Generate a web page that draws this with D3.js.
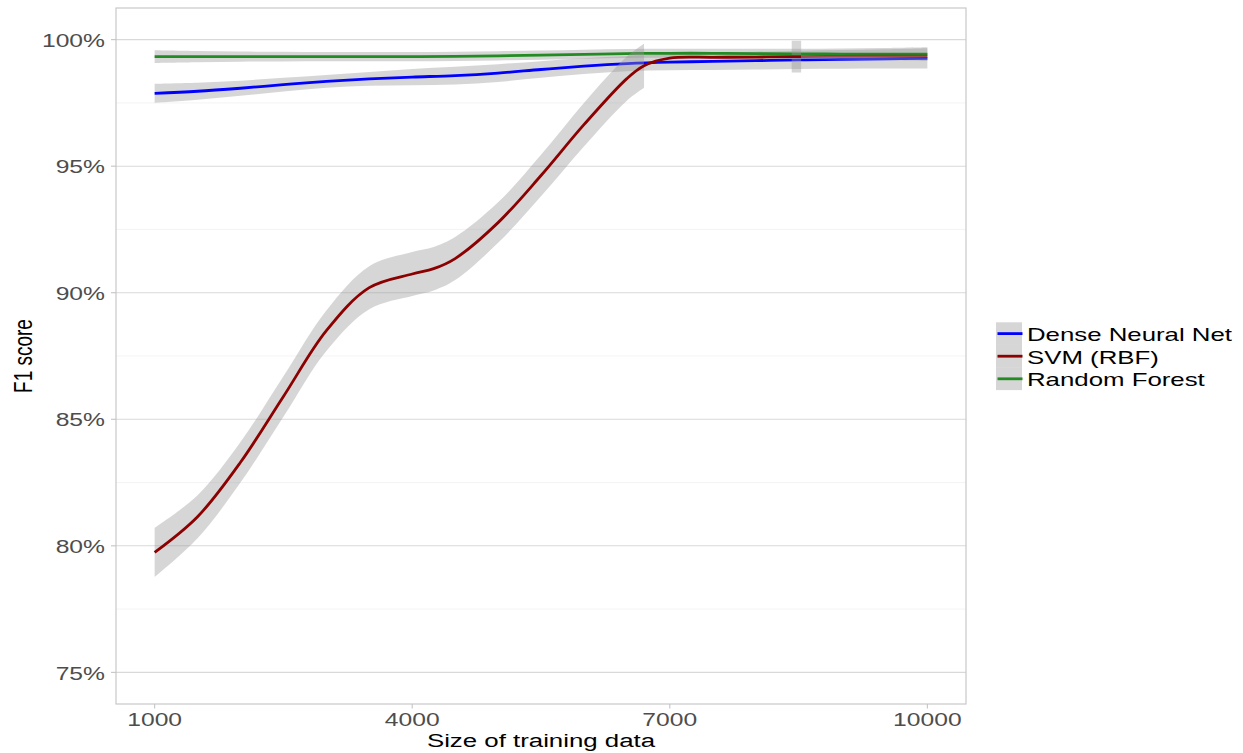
<!DOCTYPE html>
<html>
<head>
<meta charset="utf-8">
<script src="https://cdn.jsdelivr.net/npm/d3@7"></script>
<style>
  html, body { margin: 0; padding: 0; background: #fff; }
  svg { display: block; font-family: "Liberation Sans", Arial, Helvetica, sans-serif; }
</style>
</head>
<body>
<svg id="chart" width="1243" height="753"></svg>
<script>
// ---------------- data ----------------
const seriesNames = ["Dense Neural Net", "SVM (RBF)", "Random Forest"];
const seriesColors = ["#0000ff", "#8b0000", "#228b22"];

const xTicks = [1000, 4000, 7000, 10000];
const yTicks = [75, 80, 85, 90, 95, 100];
const yMinorTicks = [77.5, 82.5, 87.5, 92.5, 97.5];

const dnnX  = [1000,1500,2000,2500,3000,3500,4000,4500,5000,5500,6000,6500,7000,7500,8000,8500,9000,9500,10000];
const dnnF1 = [97.88,97.96,98.08,98.22,98.35,98.45,98.52,98.58,98.68,98.82,98.95,99.05,99.11,99.14,99.17,99.20,99.22,99.24,99.26];
const dnnSe = [0.38,0.34,0.30,0.27,0.25,0.27,0.32,0.35,0.35,0.33,0.31,0.30,0.32,0.34,0.35,0.36,0.37,0.38,0.40];

const rfX  = [1000,1500,2000,2500,3000,3500,4000,4500,5000,5500,6000,6500,7000,7500,8000,8500,9000,9500,10000];
const rfF1 = [99.33,99.33,99.33,99.33,99.33,99.33,99.33,99.34,99.36,99.39,99.42,99.45,99.46,99.46,99.45,99.44,99.43,99.43,99.43];
const rfSe = [0.25,0.22,0.20,0.19,0.18,0.18,0.18,0.18,0.18,0.18,0.18,0.18,0.18,0.18,0.19,0.20,0.22,0.24,0.27];

const svmX  = [1000,1500,2000,2500,3000,3500,4000,4250,4500,5000,5500,6000,6500,6700,7000,7500,8000,8420,8530,9000,9500,10000];
const svmF1 = [79.74,81.15,83.3,85.9,88.5,90.2,90.74,90.95,91.35,92.77,94.63,96.64,98.46,98.97,99.27,99.30,99.31,99.33,99.33,99.34,99.35,99.35];
const svmSe = [0.97,0.85,0.80,0.80,0.80,0.85,0.87,0.86,0.85,0.80,0.82,0.86,0.87,0.87,0.90,0.80,0.72,0.63,0.63,0.70,0.80,0.90];

// y axis limits of the original plot (ribbon parts beyond are dropped)
const yLimit = [75, 100];

// ---------------- layout ----------------
const svg = d3.select("#chart");
const panel = { left: 116, right: 966, top: 8, bottom: 704 };
const SX = 1.37; // horizontal stretch of text in the reference

const x = d3.scaleLinear().domain([550, 10450]).range([panel.left, panel.right]);
const y = d3.scaleLinear().domain([73.75, 101.25]).range([panel.bottom, panel.top]);

// gridlines
svg.append("g").selectAll("line").data(yMinorTicks).join("line")
  .attr("x1", panel.left).attr("x2", panel.right)
  .attr("y1", d => y(d)).attr("y2", d => y(d))
  .attr("stroke", "#ececec").attr("stroke-width", 0.6);
svg.append("g").selectAll("line").data(yTicks).join("line")
  .attr("x1", panel.left).attr("x2", panel.right)
  .attr("y1", d => y(d)).attr("y2", d => y(d))
  .attr("stroke", "#d9d9d9").attr("stroke-width", 1.1);

// series
function makeSeries(xs, vs, ses) {
  return xs.map((d, i) => ({ x: d, v: vs[i], lo: vs[i] - ses[i], hi: vs[i] + ses[i] }));
}
const dnn = makeSeries(dnnX, dnnF1, dnnSe);
const rf  = makeSeries(rfX, rfF1, rfSe);
const svm = makeSeries(svmX, svmF1, svmSe);

const curve = d3.curveCatmullRom.alpha(0.5);
const area = d3.area()
  .defined(d => d.hi <= yLimit[1] && d.lo >= yLimit[0])
  .x(d => x(d.x)).y0(d => y(d.lo)).y1(d => y(d.hi))
  .curve(curve);
const line = d3.line().x(d => x(d.x)).y(d => y(d.v)).curve(curve);

const defs = svg.append("defs");
defs.append("clipPath").attr("id", "clipA").append("rect")
  .attr("x", 0).attr("y", 0).attr("width", x(8530)).attr("height", 753);
defs.append("clipPath").attr("id", "clipB").append("rect")
  .attr("x", x(8530)).attr("y", 0).attr("width", 1243 - x(8530)).attr("height", 753);

const LW = 2.8;
const groups = [
  { data: dnn, color: seriesColors[0] },
  { data: rf,  color: seriesColors[2] },
  { data: svm, color: seriesColors[1], fadeTail: true }
];
groups.forEach(g => {
  svg.append("path").attr("d", area(g.data))
    .attr("fill", "#999999").attr("fill-opacity", 0.4);
  if (g.fadeTail) {
    svg.append("path").attr("d", line(g.data)).attr("fill", "none")
      .attr("stroke", g.color).attr("stroke-width", LW).attr("clip-path", "url(#clipA)");
    svg.append("path").attr("d", line(g.data)).attr("fill", "none")
      .attr("stroke", g.color).attr("stroke-opacity", 0.6).attr("stroke-width", LW).attr("clip-path", "url(#clipB)");
  } else {
    svg.append("path").attr("d", line(g.data)).attr("fill", "none")
      .attr("stroke", g.color).attr("stroke-width", LW);
  }
});

// panel border
svg.append("rect")
  .attr("x", panel.left).attr("y", panel.top)
  .attr("width", panel.right - panel.left).attr("height", panel.bottom - panel.top)
  .attr("fill", "none").attr("stroke", "#c4c4c4").attr("stroke-width", 1.1);

// y axis ticks & labels
const yAx = svg.append("g");
yAx.selectAll("line").data(yTicks).join("line")
  .attr("x1", panel.left - 5).attr("x2", panel.left)
  .attr("y1", d => y(d)).attr("y2", d => y(d))
  .attr("stroke", "#c4c4c4").attr("stroke-width", 1.1);
yAx.selectAll("text").data(yTicks).join("text")
  .attr("transform", d => `translate(105,${y(d) + 7.2}) scale(${SX},1)`)
  .attr("text-anchor", "end").attr("font-size", 18).attr("fill", "#4d4d4d")
  .text(d => d + "%");

// x axis ticks & labels
const xAx = svg.append("g");
xAx.selectAll("line").data(xTicks).join("line")
  .attr("x1", d => x(d)).attr("x2", d => x(d))
  .attr("y1", panel.bottom).attr("y2", panel.bottom + 4.5)
  .attr("stroke", "#c4c4c4").attr("stroke-width", 1.1);
xAx.selectAll("text").data(xTicks).join("text")
  .attr("transform", d => `translate(${x(d)},726) scale(${SX},1)`)
  .attr("text-anchor", "middle").attr("font-size", 18).attr("fill", "#4d4d4d")
  .text(d => d);

// axis titles
svg.append("text")
  .attr("transform", `translate(${(panel.left + panel.right) / 2},747) scale(1.36,1)`)
  .attr("text-anchor", "middle").attr("font-size", 19).attr("fill", "#000")
  .text("Size of training data");
svg.append("text")
  .attr("transform", `translate(32,356) scale(1.36,1) rotate(-90)`)
  .attr("text-anchor", "middle").attr("font-size", 19).attr("fill", "#000")
  .text("F1 score");

// legend
const legend = svg.append("g");
const keyH = 22.6, keyTop = 322.3;
seriesNames.forEach((name, i) => {
  const cy = keyTop + keyH * i + keyH / 2;
  legend.append("rect")
    .attr("x", 996).attr("y", keyTop + keyH * i).attr("width", 26).attr("height", keyH)
    .attr("fill", "#999999").attr("fill-opacity", 0.4);
  legend.append("line")
    .attr("x1", 997.5).attr("x2", 1022.5).attr("y1", cy).attr("y2", cy)
    .attr("stroke", seriesColors[i]).attr("stroke-width", LW);
  legend.append("text")
    .attr("transform", `translate(1027,${cy + 7.4}) scale(1.395,1)`)
    .attr("font-size", 18.5).attr("fill", "#000")
    .text(name);
});
</script>
</body>
</html>
